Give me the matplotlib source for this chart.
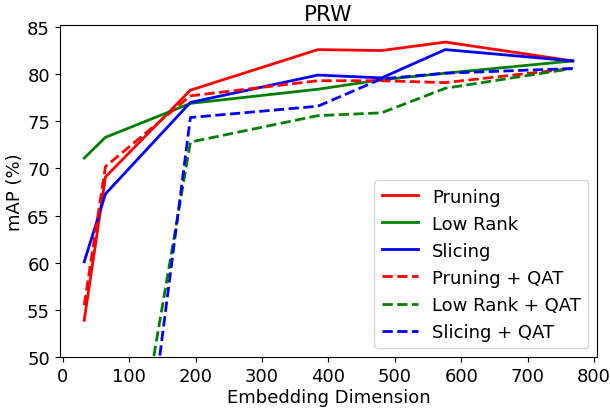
import matplotlib
matplotlib.use('Agg')
import matplotlib.pyplot as plt

dims = [32, 64, 192, 384, 480, 576, 768]

pruning = [53.9, 69.1, 78.3, 82.6, 82.5, 83.4, 81.4]
low_rank = [71.1, 73.3, 76.9, 78.4, 79.4, 80.1, 81.4]
slicing = [60.1, 67.3, 77.0, 79.9, 79.6, 82.6, 81.4]
pruning_qat = [55.5, 70.2, 77.7, 79.3, 79.3, 79.1, 80.6]
low_rank_qat = [10.0, 20.1, 72.8, 75.6, 75.9, 78.5, 80.6]
slicing_qat = [1.0, 5.3, 75.4, 76.6, 79.5, 80.1, 80.6]

plt.rcParams['font.size'] = 13

fig = plt.figure(figsize=(6.1, 4.14), dpi=100)
ax = fig.add_axes([0.098, 0.135, 0.881, 0.802])

ax.plot(dims, pruning, color='red', lw=2, label='Pruning')
ax.plot(dims, low_rank, color='green', lw=2, label='Low Rank')
ax.plot(dims, slicing, color='blue', lw=2, label='Slicing')
ax.plot(dims, pruning_qat, color='red', lw=2, ls='--', label='Pruning + QAT')
ax.plot(dims, low_rank_qat, color='green', lw=2, ls='--', label='Low Rank + QAT')
ax.plot(dims, slicing_qat, color='blue', lw=2, ls='--', label='Slicing + QAT')

ax.set_ylim(50, 85.2)
ax.set_xticks(range(0, 801, 100))
ax.set_xlabel('Embedding Dimension', labelpad=2)
ax.set_ylabel('mAP (%)', labelpad=2)
ax.set_title('PRW', pad=4)
ax.legend(loc='lower right')

fig.savefig('out.png')
